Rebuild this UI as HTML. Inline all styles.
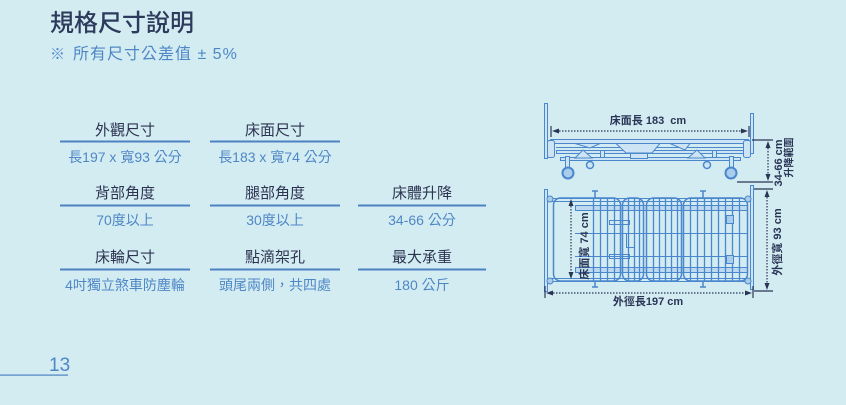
<!DOCTYPE html>
<html>
<head>
<meta charset="utf-8">
<style>
  html,body{margin:0;padding:0;}
  body{width:846px;height:405px;background:#d3ecf2;position:relative;overflow:hidden;
       font-family:"Liberation Sans","Noto Sans CJK TC",sans-serif;}
  .t{position:absolute;white-space:nowrap;}
  .title{left:50px;top:12px;font-size:24px;line-height:24px;color:#2c3a5b;font-weight:500;letter-spacing:0px;}
  .sub1{left:50px;top:47px;font-size:15px;line-height:15px;color:#4f87c5;}
  .sub2{left:73px;top:47px;font-size:16px;line-height:16px;color:#4f87c5;letter-spacing:1px;}
  .h{position:absolute;font-size:15px;line-height:15px;color:#2d3451;text-align:center;white-space:nowrap;}
  .v{position:absolute;font-size:14px;line-height:14px;color:#4f87c5;text-align:center;white-space:nowrap;}
  .c1{left:60px;width:130px;}
  .c2{left:210px;width:130px;}
  .c3{left:358px;width:128px;}
  .pn{left:49px;top:356px;font-size:19px;line-height:19px;color:#4f87c5;}
  .dl{position:absolute;font-size:11px;line-height:12px;font-weight:bold;color:#2a3556;white-space:nowrap;text-align:center;}
  svg{position:absolute;left:0;top:0;}
</style>
</head>
<body>
<svg width="846" height="405" viewBox="0 0 846 405" xmlns="http://www.w3.org/2000/svg">
  <!-- table lines -->
  <g fill="#4c82c2">
    <rect x="60" y="140.5" width="130" height="2"/>
    <rect x="210" y="140.5" width="130" height="2"/>
    <rect x="60" y="204.5" width="130" height="2"/>
    <rect x="210" y="204.5" width="130" height="2"/>
    <rect x="358" y="204.5" width="128" height="2"/>
    <rect x="60" y="268.5" width="130" height="2"/>
    <rect x="210" y="268.5" width="130" height="2"/>
    <rect x="358" y="268.5" width="128" height="2"/>
    <rect x="0" y="374.5" width="68" height="1.2"/>
  </g>

  <!-- ===== SIDE VIEW ===== -->
  <g stroke="#4b87cc" fill="#cde4f4" stroke-width="1">
    <rect x="544.5" y="103.5" width="3" height="55"/>
    <rect x="750.5" y="113.5" width="3" height="40"/>
    <rect x="550.5" y="139.5" width="198" height="4"/>
    <line x1="556" y1="147.5" x2="745" y2="147.5"/>
    <rect x="556.5" y="150.5" width="188" height="3"/>
    <rect x="560.5" y="157.5" width="180" height="3"/>
    <rect x="547.5" y="140.5" width="7" height="17" rx="2"/>
    <rect x="743.5" y="140.5" width="7" height="17" rx="2"/>
    <path d="M616 143.5 L660 143.5 L652 153 L626 153 Z"/>
    <rect x="630.5" y="153.5" width="17" height="5"/>
    <path d="M575 158 L583 150 L592 158 Z"/>
    <path d="M688 158 L697 150 L705 158 Z"/>
    <rect x="600.5" y="150.5" width="4" height="7"/>
    <rect x="712.5" y="150.5" width="4" height="7"/>
    <path d="M670 143.5 L690 143.5 L685 150 Z"/>
    <path d="M575 143.5 L600 143.5 L590 148 Z"/>
    <rect x="565.5" y="156.5" width="4" height="11"/>
    <rect x="729.5" y="156.5" width="4" height="11"/>
    <circle cx="568" cy="173" r="5.5" stroke-width="2" fill="#a9cdea"/>
    <circle cx="731" cy="173" r="5.5" stroke-width="2" fill="#a9cdea"/>
    <circle cx="590" cy="165" r="3.5" stroke-width="1.5"/>
    <circle cx="707" cy="165" r="3.5" stroke-width="1.5"/>
  </g>
  <!-- side dims -->
  <g stroke="#2a3556" fill="none" stroke-width="1.2">
    <line x1="551" y1="126" x2="551" y2="137"/>
    <line x1="749" y1="126" x2="749" y2="137"/>
    <line x1="559" y1="131" x2="742" y2="131" stroke-dasharray="1.5,1.5"/>
    <line x1="752" y1="140" x2="773" y2="140"/>
    <line x1="737" y1="182" x2="773" y2="182"/>
    <line x1="768" y1="148" x2="768" y2="174" stroke-dasharray="1.5,1.5"/>
  </g>
  <g fill="#2a3556">
    <polygon points="552,131 559,128.5 559,133.5"/>
    <polygon points="748,131 741,128.5 741,133.5"/>
    <polygon points="768,141 765.5,148 770.5,148"/>
    <polygon points="768,181 765.5,174 770.5,174"/>
  </g>

  <!-- ===== TOP VIEW ===== -->
  <g stroke="#4b87cc" fill="none" stroke-width="1">
    <rect x="544.5" y="189.5" width="3" height="102" fill="#cde4f4"/>
    <rect x="750.5" y="185.5" width="3" height="104" fill="#cde4f4"/>
    <line x1="548" y1="198.5" x2="750" y2="198.5"/>
    <line x1="548" y1="201.5" x2="750" y2="201.5"/>
    <line x1="548" y1="278.5" x2="750" y2="278.5"/>
    <line x1="548" y1="281.5" x2="750" y2="281.5"/>
    <!-- bands -->
    <rect x="575.5" y="205.5" width="172" height="5" fill="#bcd9ef"/>
    <rect x="575.5" y="267.5" width="172" height="5" fill="#bcd9ef"/>
    <line x1="575" y1="233.5" x2="748" y2="233.5"/>
    <line x1="575" y1="256.5" x2="748" y2="256.5"/>
    <!-- panels -->
    <g stroke-width="1.5">
      <rect x="553.5" y="198" width="67" height="83" rx="7"/>
      <rect x="622.5" y="198" width="21" height="83" rx="7"/>
      <rect x="646.5" y="198" width="35" height="83" rx="7"/>
      <rect x="683.5" y="198" width="64" height="83" rx="7"/>
    </g>
    <g stroke-width="1.3">
      <line x1="593.5" y1="198" x2="593.5" y2="281"/>
      <line x1="600.5" y1="198" x2="600.5" y2="281"/>
      <line x1="607.5" y1="198" x2="607.5" y2="281"/>
      <line x1="614.5" y1="198" x2="614.5" y2="281"/>
      <line x1="628.5" y1="198" x2="628.5" y2="281"/>
      <line x1="634.5" y1="198" x2="634.5" y2="281"/>
      <line x1="639.5" y1="198" x2="639.5" y2="281"/>
      <line x1="653.5" y1="198" x2="653.5" y2="281"/>
      <line x1="659.5" y1="198" x2="659.5" y2="281"/>
      <line x1="665.5" y1="198" x2="665.5" y2="281"/>
      <line x1="671.5" y1="198" x2="671.5" y2="281"/>
      <line x1="677.5" y1="198" x2="677.5" y2="281"/>
      <line x1="690.5" y1="198" x2="690.5" y2="281"/>
      <line x1="697.5" y1="198" x2="697.5" y2="281"/>
      <line x1="704.5" y1="198" x2="704.5" y2="281"/>
      <line x1="711.5" y1="198" x2="711.5" y2="281"/>
      <line x1="718.5" y1="198" x2="718.5" y2="281"/>
      <line x1="725.5" y1="198" x2="725.5" y2="281"/>
      <line x1="732.5" y1="198" x2="732.5" y2="281"/>
      <line x1="739.5" y1="198" x2="739.5" y2="281"/>
    </g>
    <!-- small details -->
    <rect x="609.5" y="220.5" width="20" height="4"/>
    <rect x="626.5" y="233.5" width="8" height="14"/>
    <rect x="609.5" y="254.5" width="20" height="4"/>
    <rect x="726.5" y="215.5" width="7" height="8" fill="#a9cdea"/>
    <rect x="726.5" y="255.5" width="7" height="8" fill="#a9cdea"/>
    <!-- knobs -->
    <g stroke-width="1.5">
      <line x1="595" y1="191" x2="595" y2="198"/>
      <line x1="592" y1="191" x2="598" y2="191"/>
      <line x1="703" y1="191" x2="703" y2="198"/>
      <line x1="700" y1="191" x2="706" y2="191"/>
      <line x1="595" y1="281" x2="595" y2="287"/>
      <line x1="592" y1="287" x2="598" y2="287"/>
      <line x1="703" y1="281" x2="703" y2="287"/>
      <line x1="700" y1="287" x2="706" y2="287"/>
    </g>
    <circle cx="550" cy="199" r="3" fill="#a9cdea"/>
    <circle cx="550" cy="281" r="3" fill="#a9cdea"/>
    <circle cx="748" cy="199" r="3" fill="#a9cdea"/>
    <circle cx="748" cy="281" r="3" fill="#a9cdea"/>
  </g>
  <!-- top view dims -->
  <g stroke="#2a3556" fill="none" stroke-width="1.2">
    <line x1="571" y1="206" x2="571" y2="272" stroke-dasharray="1.5,1.5"/>
    <line x1="754" y1="189" x2="773" y2="189"/>
    <line x1="754" y1="291" x2="773" y2="291"/>
    <line x1="767" y1="197" x2="767" y2="283" stroke-dasharray="1.5,1.5"/>
    <line x1="545" y1="286" x2="545" y2="298"/>
    <line x1="753" y1="286" x2="753" y2="298"/>
    <line x1="553" y1="293" x2="745" y2="293" stroke-dasharray="1.5,1.5"/>
  </g>
  <g fill="#2a3556">
    <polygon points="571,199 568.5,206 573.5,206"/>
    <polygon points="571,279 568.5,272 573.5,272"/>
    <polygon points="767,190 764.5,197 769.5,197"/>
    <polygon points="767,290 764.5,283 769.5,283"/>
    <polygon points="546,293 553,290.5 553,295.5"/>
    <polygon points="752,293 745,290.5 745,295.5"/>
  </g>
</svg>

<div class="t title">規格尺寸說明</div>
<div class="t sub1">※</div>
<div class="t sub2">所有尺寸公差值 ± 5%</div>

<div class="h c1" style="top:123px;">外觀尺寸</div>
<div class="v c1" style="top:150px;">長197 x 寬93 公分</div>
<div class="h c2" style="top:123px;">床面尺寸</div>
<div class="v c2" style="top:150px;">長183 x 寬74 公分</div>

<div class="h c1" style="top:186px;">背部角度</div>
<div class="v c1" style="top:213px;">70度以上</div>
<div class="h c2" style="top:186px;">腿部角度</div>
<div class="v c2" style="top:213px;">30度以上</div>
<div class="h c3" style="top:186px;">床體升降</div>
<div class="v c3" style="top:213px;">34-66 公分</div>

<div class="h c1" style="top:250px;">床輪尺寸</div>
<div class="v c1" style="top:278px;">4吋獨立煞車防塵輪</div>
<div class="h c2" style="top:250px;">點滴架孔</div>
<div class="v c2" style="top:278px;">頭尾兩側，共四處</div>
<div class="h c3" style="top:250px;">最大承重</div>
<div class="v c3" style="top:278px;">180 公斤</div>

<div class="t pn">13</div>

<div class="dl" style="left:598px;top:115px;width:100px;">床面長 183&nbsp; cm</div>
<div class="dl" style="left:598px;top:296px;width:100px;">外徑長197 cm</div>
<div class="dl" style="left:545px;top:240px;width:80px;transform:rotate(-90deg);">床面寬 74 cm</div>
<div class="dl" style="left:738px;top:236px;width:80px;transform:rotate(-90deg);">外徑寬 93 cm</div>
<div class="dl" style="left:744px;top:157px;width:70px;transform:rotate(-90deg);">34-66 cm</div>
<div class="dl" style="left:760px;top:152px;width:60px;font-size:10px;line-height:11px;transform:rotate(-90deg);">升降範圍</div>
</body>
</html>
